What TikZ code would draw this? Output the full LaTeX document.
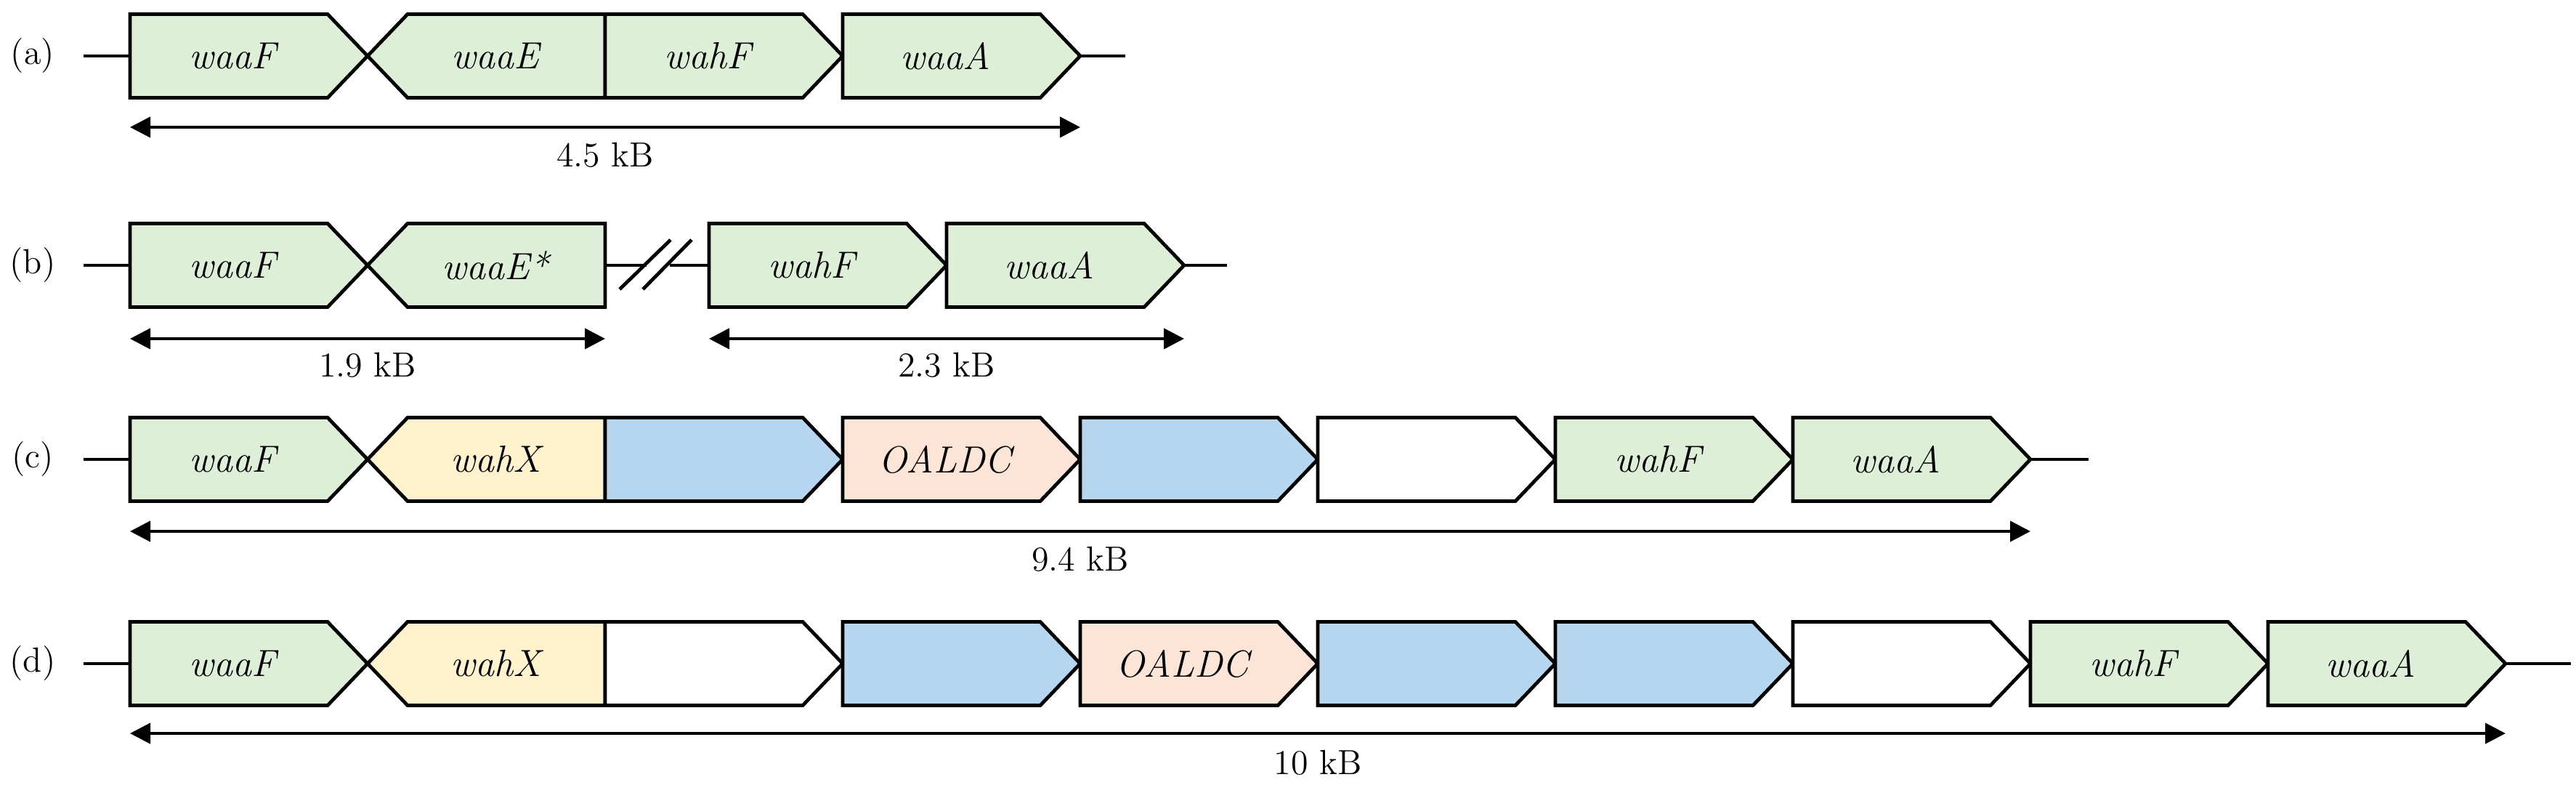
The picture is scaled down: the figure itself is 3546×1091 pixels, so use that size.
\documentclass[tikz,border=0pt]{standalone}
\usetikzlibrary{arrows.meta}
\definecolor{gnGreen}{HTML}{DDEFD7}
\definecolor{gnYellow}{HTML}{FFF2CC}
\definecolor{gnBlue}{HTML}{B5D6EE}
\definecolor{gnPeach}{HTML}{FCE4D6}
\tikzset{
  gene/.style={draw=black,line width=1.2pt,line join=miter},
  genelabel/.style={font=\fontsize{13}{15}\selectfont\itshape,inner sep=0pt},
  backbone/.style={line width=1.2pt},
  size/.style={line width=1.1pt,{Triangle[length=7pt,width=7pt]}-{Triangle[length=7pt,width=7pt]}},
  sizelabel/.style={font=\fontsize{12}{14}\selectfont,inner sep=0pt},
  rowlabel/.style={font=\fontsize{12}{14}\selectfont,inner sep=0pt}
}
% gene pointing right: name, x, y, fill, label
\newcommand\geneR[5]{%
  \draw[gene,fill=#4] (#2,#3-57.5) -- ++(272,0) -- ++(55,57.5) -- ++(-55,57.5) -- ++(-272,0) -- cycle;
  \node[genelabel] (#1) at (#2+141,#3) {#5};
  \coordinate (#1-w) at (#2,#3);
  \coordinate (#1-e) at (#2+327,#3);}
% gene pointing left
\newcommand\geneL[5]{%
  \draw[gene,fill=#4] (#2,#3) -- ++(55,-57.5) -- ++(272,0) -- ++(0,115) -- ++(-272,0) -- cycle;
  \node[genelabel] (#1) at (#2+176,#3) {#5};
  \coordinate (#1-w) at (#2,#3);
  \coordinate (#1-e) at (#2+327,#3);}
\begin{document}
\begin{tikzpicture}[x=0.25pt,y=-0.25pt]
\useasboundingbox (0,0) rectangle (3546,1091);

% (a)
\node[rowlabel] (la) at (45,77) {(a)};
\coordinate (aL) at (115,77);
\coordinate (aR) at (1549,77);
\draw[backbone] (aL) -- (aR);
\geneR{aF}{179}{77}{gnGreen}{waaF}
\geneL{aE}{506}{77}{gnGreen}{waaE}
\geneR{aH}{833}{77}{gnGreen}{wahF}
\geneR{aA}{1160}{77}{gnGreen}{waaA}
\draw[size] (aF-w |- 0,175) coordinate (sa1) -- (aA-e |- 0,175) coordinate (sa2);
\path (sa1) -- (sa2) node[sizelabel,midway,yshift=-9.5pt] (ta) {4.5 kB};

% (b)
\node[rowlabel] (lb) at (45,365) {(b)};
\coordinate (bL) at (115,365);
\coordinate (b1) at (890,365);
\coordinate (b2) at (922,365);
\coordinate (bR) at (1689,365);
\draw[backbone] (bL) -- (b1);
\draw[backbone] (b2) -- (bR);
\draw[backbone] (853,398) coordinate (s1) -- (923,330) coordinate (s2);
\draw[backbone] (885,398) coordinate (s3) -- (952,330) coordinate (s4);
\geneR{bF}{179}{365}{gnGreen}{waaF}
\geneL{bE}{506}{365}{gnGreen}{waaE*}
\geneR{bH}{976}{365}{gnGreen}{wahF}
\geneR{bA}{1303}{365}{gnGreen}{waaA}
\draw[size] (bF-w |- 0,466) coordinate (sb1) -- (bE-e |- 0,466) coordinate (sb2);
\path (sb1) -- (sb2) node[sizelabel,midway,yshift=-9pt] (tb1) {1.9 kB};
\draw[size] (bH-w |- 0,466) coordinate (sb3) -- (bA-e |- 0,466) coordinate (sb4);
\path (sb3) -- (sb4) node[sizelabel,midway,yshift=-9pt] (tb2) {2.3 kB};

% (c)
\node[rowlabel] (lc) at (45,632) {(c)};
\coordinate (cL) at (115,632);
\coordinate (cR) at (2875,632);
\draw[backbone] (cL) -- (cR);
\geneR{cF}{179}{632}{gnGreen}{waaF}
\geneL{cX}{506}{632}{gnYellow}{wahX}
\geneR{c3}{833}{632}{gnBlue}{}
\geneR{cO}{1160}{632}{gnPeach}{OALDC}
\geneR{c5}{1487}{632}{gnBlue}{}
\geneR{c6}{1814}{632}{white}{}
\geneR{cH}{2141}{632}{gnGreen}{wahF}
\geneR{cA}{2468}{632}{gnGreen}{waaA}
\draw[size] (cF-w |- 0,731) coordinate (sc1) -- (cA-e |- 0,731) coordinate (sc2);
\path (sc1) -- (sc2) node[sizelabel,midway,yshift=-9.5pt] (tc) {9.4 kB};

% (d)
\node[rowlabel] (ld) at (45,913) {(d)};
\coordinate (dL) at (115,913);
\coordinate (dR) at (3539,913);
\draw[backbone] (dL) -- (dR);
\geneR{dF}{179}{913}{gnGreen}{waaF}
\geneL{dX}{506}{913}{gnYellow}{wahX}
\geneR{d3}{833}{913}{white}{}
\geneR{d4}{1160}{913}{gnBlue}{}
\geneR{dO}{1487}{913}{gnPeach}{OALDC}
\geneR{d6}{1814}{913}{gnBlue}{}
\geneR{d7}{2141}{913}{gnBlue}{}
\geneR{d8}{2468}{913}{white}{}
\geneR{dH}{2795}{913}{gnGreen}{wahF}
\geneR{dA}{3122}{913}{gnGreen}{waaA}
\draw[size] (dF-w |- 0,1009) coordinate (sd1) -- (dA-e |- 0,1009) coordinate (sd2);
\path (sd1) -- (sd2) node[sizelabel,midway,yshift=-10pt] (td) {10 kB};
\end{tikzpicture}
\end{document}
